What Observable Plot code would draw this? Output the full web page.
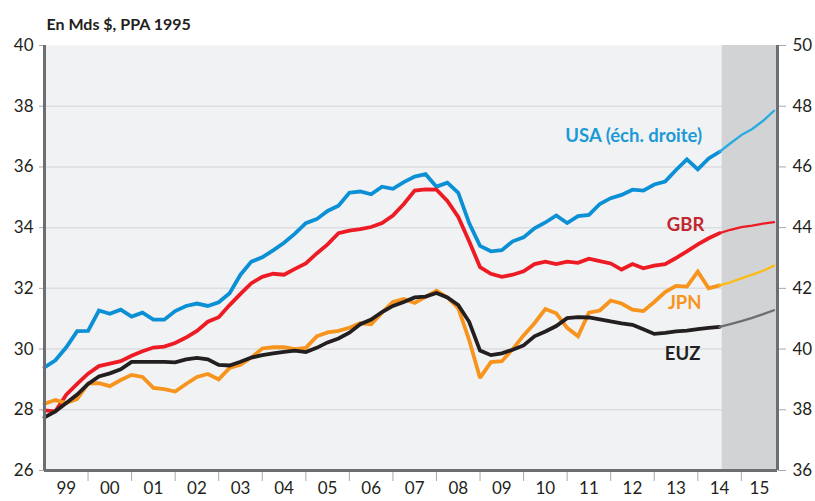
<!DOCTYPE html>
<html>
<head>
<meta charset="utf-8">
<script src="https://cdn.jsdelivr.net/npm/d3@7"></script>
<script src="https://cdn.jsdelivr.net/npm/@observablehq/plot@0.6"></script>
<style>
  body { margin: 0; background: #fff; }
  #chart { width: 815px; height: 501px; }
</style>
</head>
<body>
<div id="chart"></div>
<script>
// ---- Data (quarterly, 1999Q1 .. 2015Q4) ----
const startYear = 1999;
const lastHistIndex = 62;            // 2014Q3 : last observed quarter
const forecastStart = 2014.56;       // beginning of the shaded forecast zone
const xEnd = 2015.83;

const titleText = "En Mds $, PPA 1995";
const yearLabels = ["99","00","01","02","03","04","05","06","07","08","09","10","11","12","13","14","15"];
const leftTicks = [26, 28, 30, 32, 34, 36, 38, 40];
const rightOffset = 10;              // right scale = left scale + 10

// USA on the right-hand scale
const usa = [39.4, 39.63, 40.06, 40.59, 40.6, 41.27, 41.16, 41.3, 41.07, 41.2,
  40.97, 40.97, 41.25, 41.42, 41.5, 41.42, 41.54, 41.84, 42.45, 42.88,
  43.02, 43.25, 43.5, 43.8, 44.15, 44.28, 44.55, 44.72, 45.15, 45.19,
  45.1, 45.35, 45.28, 45.5, 45.68, 45.76, 45.35, 45.48, 45.15, 44.15,
  43.4, 43.22, 43.26, 43.55, 43.68, 43.98, 44.17, 44.4, 44.15, 44.38,
  44.42, 44.78, 44.97, 45.08, 45.25, 45.22, 45.42, 45.52, 45.9, 46.25,
  45.92, 46.28, 46.5, 46.78, 47.05, 47.25, 47.52, 47.85];

const gbr = [27.98, 27.95, 28.5, 28.85, 29.19, 29.44, 29.52, 29.6, 29.78, 29.93,
  30.05, 30.08, 30.2, 30.38, 30.6, 30.9, 31.05, 31.45, 31.82, 32.17,
  32.38, 32.48, 32.45, 32.64, 32.82, 33.15, 33.45, 33.82, 33.9, 33.95,
  34.02, 34.15, 34.4, 34.78, 35.22, 35.26, 35.25, 34.88, 34.35, 33.55,
  32.7, 32.48, 32.38, 32.45, 32.56, 32.8, 32.88, 32.8, 32.88, 32.84,
  32.98, 32.9, 32.82, 32.62, 32.8, 32.66, 32.75, 32.8, 33.0, 33.22,
  33.45, 33.65, 33.82, 33.93, 34.02, 34.07, 34.13, 34.18];

const jpn = [28.2, 28.32, 28.22, 28.36, 28.86, 28.88, 28.78, 28.98, 29.15, 29.08,
  28.72, 28.68, 28.6, 28.85, 29.08, 29.18, 29.0, 29.38, 29.48, 29.72,
  30.02, 30.06, 30.06, 30.0, 30.04, 30.42, 30.55, 30.6, 30.7, 30.85,
  30.82, 31.2, 31.55, 31.65, 31.52, 31.72, 31.92, 31.7, 31.35, 30.3,
  29.05, 29.57, 29.6, 30.0, 30.45, 30.85, 31.32, 31.18, 30.7, 30.42,
  31.2, 31.27, 31.6, 31.5, 31.3, 31.25, 31.55, 31.88, 32.08, 32.06,
  32.55, 32.0, 32.1, 32.2, 32.33, 32.45, 32.58, 32.75];

const euz = [27.75, 27.95, 28.22, 28.5, 28.85, 29.1, 29.2, 29.33, 29.58, 29.58,
  29.58, 29.58, 29.56, 29.66, 29.71, 29.66, 29.48, 29.46, 29.58, 29.72,
  29.8, 29.86, 29.91, 29.95, 29.9, 30.04, 30.22, 30.35, 30.54, 30.82,
  30.97, 31.22, 31.42, 31.55, 31.7, 31.73, 31.85, 31.7, 31.45, 30.9,
  29.95, 29.8, 29.86, 29.98, 30.12, 30.42, 30.58, 30.76, 31.02, 31.05,
  31.04, 30.98, 30.91, 30.85, 30.8, 30.65, 30.5, 30.53, 30.58, 30.61,
  30.66, 30.7, 30.73, 30.82, 30.92, 31.03, 31.15, 31.28];

const series = [
  {name: "USA", values: usa, offset: rightOffset, hist: "#0b90d5", fcst: "#29abe2"},
  {name: "GBR", values: gbr, offset: 0, hist: "#ed1c24", fcst: "#ed1c24"},
  {name: "JPN", values: jpn, offset: 0, hist: "#f7941d", fcst: "#fdbb14"},
  {name: "EUZ", values: euz, offset: 0, hist: "#231f20", fcst: "#6d6e71"}
];

const labels = [
  {text: "USA (éch. droite)", x: 2012.53, y: 37.0, color: "#1b9ad6"},
  {text: "GBR", x: 2013.72, y: 34.07, color: "#c1272d"},
  {text: "JPN", x: 2013.7, y: 31.5, color: "#f7941d"},
  {text: "EUZ", x: 2013.65, y: 29.82, color: "#231f20"}
];

// ---- Build tables ----
const toRows = s => s.values.map((v, i) => ({name: s.name, i, t: startYear + i / 4, v: v - s.offset}));
const lineMarks = [];
for (const s of series) {
  const rows = toRows(s);
  lineMarks.push(Plot.line(rows.filter(d => d.i <= lastHistIndex),
    {x: "t", y: "v", stroke: s.hist, strokeWidth: 3.8, strokeLinejoin: "miter", strokeMiterlimit: 2}));
  lineMarks.push(Plot.line(rows.filter(d => d.i >= lastHistIndex),
    {x: "t", y: "v", stroke: s.fcst, strokeWidth: 2.3}));
}

const yearTicks = d3.range(2000, 2016);
const labelPos = yearLabels.map((l, k) => {
  const y0 = startYear + k;
  return {pos: Math.min(y0 + 0.5, (y0 + xEnd) / 2), label: l};
});
const labelMap = new Map(labelPos.map(d => [d.pos, d.label]));

const axisGrey = "#6d6e71";
const tickGrey = "#a7a9ac";

const chart = Plot.plot({
  width: 815,
  height: 501,
  marginLeft: 44,
  marginRight: 38,
  marginTop: 45,
  marginBottom: 31,
  x: {domain: [startYear, xEnd], axis: null},
  y: {domain: [26, 40], axis: null},
  style: {fontFamily: "Lato, 'Open Sans', sans-serif", background: "#fff", color: "#231f20"},
  marks: [
    Plot.frame({fill: "#f1f2f4", stroke: "none"}),
    Plot.gridY(leftTicks.filter(d => d > 26 && d < 40), {stroke: "#dcdde1", strokeOpacity: 1, strokeWidth: 1.5}),
    Plot.rect([{x1: forecastStart, x2: xEnd}], {x1: "x1", x2: "x2", y1: 26, y2: 40, fill: "#d1d3d4"}),
    ...lineMarks,
    // left axis
    Plot.axisY({anchor: "left", ticks: leftTicks, tickSize: 5, tickPadding: 6, fontSize: 17,
      stroke: tickGrey, fill: "#231f20"}),
    // right axis (USA scale)
    Plot.axisY({anchor: "right", ticks: leftTicks, tickFormat: d => String(d + rightOffset),
      tickSize: 8, tickPadding: 7, fontSize: 17, stroke: tickGrey, fill: "#231f20"}),
    // x ticks at year boundaries
    Plot.axisX({ticks: yearTicks, tickSize: 11, tickFormat: () => "", stroke: tickGrey}),
    // x labels centered in each year
    Plot.axisX({ticks: labelPos.map(d => d.pos), tickSize: 0, tickPadding: 11, fontSize: 17,
      tickFormat: d => labelMap.get(d), fill: "#231f20"}),
    // axis lines
    Plot.ruleX([startYear, xEnd], {stroke: axisGrey, strokeWidth: 3}),
    Plot.ruleY([26], {stroke: axisGrey, strokeWidth: 3}),
    // series labels
    Plot.text(labels, {x: "x", y: "y", text: "text", fill: "color", fontSize: 18.5, fontWeight: "bold"}),
    // title
    Plot.text([titleText], {frameAnchor: "top-left", dx: 2, dy: -27, fontSize: 16, fontWeight: "bold",
      textAnchor: "start", fill: "#231f20"})
  ]
});
document.getElementById("chart").appendChild(chart);
</script>
</body>
</html>
